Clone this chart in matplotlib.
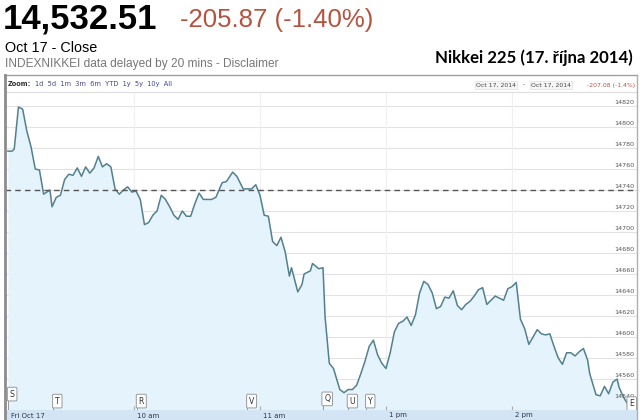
import numpy as np
import matplotlib.pyplot as plt
from matplotlib.lines import Line2D

# Nikkei 225, Oct 17 2014, intraday
# x = trading minutes since 9:00 (the 11:30-12:30 lunch break is cut out)
minutes = [0, 2, 3, 5, 7, 9, 11, 13, 15, 17, 20, 21, 23, 25, 27, 29, 31, 33, 35, 37,
           39, 41, 43, 45, 47, 49, 51, 53, 55, 57, 59, 61, 63, 65, 67, 69, 71, 73, 75, 77,
           79, 81, 83, 85, 87, 89, 91, 93, 95, 97, 99, 102, 104, 107, 109, 112, 116, 118, 120, 122,
           124, 126, 128, 130, 132, 134, 135, 138, 140, 141, 144, 145, 148, 150,
           151, 153, 155, 158, 160, 162, 164, 166, 168, 170, 172, 174, 176, 178, 180, 182,
           184, 186, 188, 190, 192, 194, 196, 198, 200, 202, 204, 206, 208, 210, 212, 214,
           216, 218, 220, 222, 224, 226, 228, 230, 232, 234, 236, 238, 240, 242, 244, 246,
           248, 250, 252, 254, 256, 258, 260, 262, 264, 266, 268, 270, 272, 274, 276, 277,
           280, 282, 284, 286, 288, 290, 291, 293, 296]
prices = [14777, 14777, 14779, 14819, 14817, 14796, 14781, 14760, 14759, 14736, 14740, 14724, 14733, 14735, 14750, 14755, 14754, 14761, 14753, 14762,
          14756, 14761, 14772, 14762, 14765, 14762, 14741, 14736, 14740, 14743, 14738, 14739, 14731, 14707, 14709, 14716, 14720, 14735, 14731, 14724,
          14716, 14712, 14720, 14715, 14715, 14727, 14737, 14731, 14731, 14731, 14733, 14747, 14748, 14757, 14753, 14741, 14741, 14745, 14735, 14716,
          14715, 14691, 14687, 14695, 14681, 14658, 14666, 14643, 14650, 14660, 14663, 14670, 14665, 14666,
          14619, 14575, 14570, 14550, 14547, 14550, 14550, 14554, 14565, 14577, 14591, 14597, 14583, 14575, 14570, 14585,
          14605, 14613, 14615, 14619, 14611, 14621, 14642, 14653, 14650, 14642, 14627, 14629, 14638, 14637, 14644, 14630,
          14626, 14631, 14634, 14639, 14645, 14647, 14631, 14635, 14639, 14637, 14635, 14646, 14648, 14652, 14617, 14608,
          14593, 14600, 14607, 14603, 14602, 14603, 14591, 14580, 14574, 14585, 14585, 14582, 14586, 14589, 14578, 14565,
          14545, 14544, 14553, 14546, 14557, 14560, 14552, 14543, 14533]

prev_close = 14740
y_ticks = list(range(14540, 14821, 20))
x_tick_pos = [0, 60, 120, 180, 240]
x_tick_labels = ['Fri Oct 17', '10 am', '11 am', '1 pm', '2 pm']

# news flags
flag_letters = ['S', 'T', 'R', 'V', 'Q', 'U', 'Y', 'E']
flag_minutes = [2, 23.5, 63.5, 116, 152, 164, 172.5, 297]

plt.rcParams['font.family'] = ['Liberation Sans', 'DejaVu Sans']

W, H = 640, 420
fig = plt.figure(figsize=(6.4, 4.2), dpi=100)

def fx(px):
    return px / W

def fy(py):
    return 1 - py / H

# header
fig.text(fx(3), fy(28.5), '14,532.51', fontsize=25, fontweight='bold', color='black', va='baseline')
fig.text(fx(180), fy(27), '-205.87 (-1.40%)', fontsize=18.5, color='#b5533f', va='baseline')
fig.text(fx(5), fy(52), 'Oct 17 - Close', fontsize=10.4, color='black', va='baseline')
fig.text(fx(5), fy(66.5), 'INDEXNIKKEI data delayed by 20 mins - Disclaimer', fontsize=8.6,
         color='#777777', va='baseline')
fig.text(fx(633), fy(62.5), 'Nikkei 225 (17. října 2014)', fontsize=12.1, fontweight='bold',
         family=['Lato', 'DejaVu Sans'], ha='right', va='baseline')

# zoom bar
fig.text(fx(8), fy(84), 'Zoom:', fontsize=4.8, fontweight='bold', family='DejaVu Sans',
         color='#333333', va='center')
fig.text(fx(35), fy(84), '1d  5d  1m  3m  6m  YTD  1y  5y  10y  All', fontsize=4.8,
         family='DejaVu Sans', color='#444488', va='center')
box = dict(boxstyle='square,pad=0.2', fc='#f6f6f6', ec='#e4e4e4', lw=0.6)
fig.text(fx(476), fy(85), 'Oct 17, 2014', fontsize=4.4, family='DejaVu Sans',
         color='#444444', va='center', bbox=box)
fig.text(fx(523), fy(85), '-', fontsize=4.4, family='DejaVu Sans', color='#444444', va='center')
fig.text(fx(531), fy(85), 'Oct 17, 2014', fontsize=4.4, family='DejaVu Sans',
         color='#444444', va='center', bbox=box)
fig.text(fx(635), fy(85), '-207.08 (-1.4%)', fontsize=4.4, family='DejaVu Sans',
         color='#b5533f', va='center', ha='right')
fig.add_artist(Line2D([fx(5), fx(637)], [fy(75), fy(75)], color='#a0a0a0', lw=1))
fig.add_artist(Line2D([fx(5), fx(637)], [fy(91.5), fy(91.5)], color='#dddddd', lw=0.8))

# main plot
ax = fig.add_axes([fx(5), 10 / H, 632 / W, 318 / H])
ymin, ymax = 14530.5, 14833.3
ax.set_xlim(-1.4, 299.5)
ax.set_ylim(ymin, ymax)
ax.fill_between(minutes, prices, ymin, color='#e4f3fc', lw=0)
ax.plot(minutes, prices, color='#52808f', lw=1.1)
for yv in y_ticks:
    ax.axhline(yv, color='#e2e2e2', lw=0.8, zorder=0)
    ax.annotate(str(yv), xy=(1, yv), xycoords=('axes fraction', 'data'), xytext=(-2, 2.5),
                textcoords='offset points', ha='right', va='center', fontsize=4.6,
                family='DejaVu Sans', color='#555555')
for xv in x_tick_pos[1:]:
    ax.axvline(xv, color='#f0f0f0', lw=0.8, zorder=0)
ax.axhline(prev_close, color='#555555', lw=1, ls=(0, (4, 3)))
ax.set_xticks(x_tick_pos)
ax.set_yticks([])
ax.tick_params(axis='x', direction='in', length=3, color='#aaaaaa', labelbottom=False)
for s in ax.spines.values():
    s.set_visible(False)

# flags
xt = ax.get_xaxis_transform()
for letter, xm in zip(flag_letters, flag_minutes):
    yfrac = 0.05 if letter == 'S' else (0.035 if letter == 'Q' else 0.028)
    if letter == 'E':
        yfrac = 0.02
    ax.vlines(xm - 2.2, 0, yfrac, transform=xt, color='#999999', lw=0.7)
    ax.text(xm, yfrac, letter, transform=xt, ha='center', va='center', fontsize=5.6,
            family='DejaVu Sans', color='#333333',
            bbox=dict(boxstyle='round,pad=0.3,rounding_size=0.15', fc='white', ec='#999999', lw=0.7))

# x axis band
bx = fig.add_axes([fx(5), 0, 632 / W, 10 / H], facecolor='#d3e5f5')
bx.set_xlim(-1.4, 299.5)
bx.set_ylim(0, 1)
bx.set_xticks([])
bx.set_yticks([])
for s in bx.spines.values():
    s.set_visible(False)
for xv, lab in zip(x_tick_pos, x_tick_labels):
    bx.annotate(lab, xy=(xv, 0.45), xycoords='data', xytext=(2, 0), textcoords='offset points',
                ha='left', va='center', fontsize=5, family='DejaVu Sans', color='#333344')

# frame
fig.add_artist(Line2D([fx(5), fx(5)], [0, fy(75)], color='#8c8c8c', lw=2))
fig.add_artist(Line2D([fx(637), fx(637)], [0, fy(75)], color='#b0b0b0', lw=1))

fig.savefig('out.png', dpi=100)
